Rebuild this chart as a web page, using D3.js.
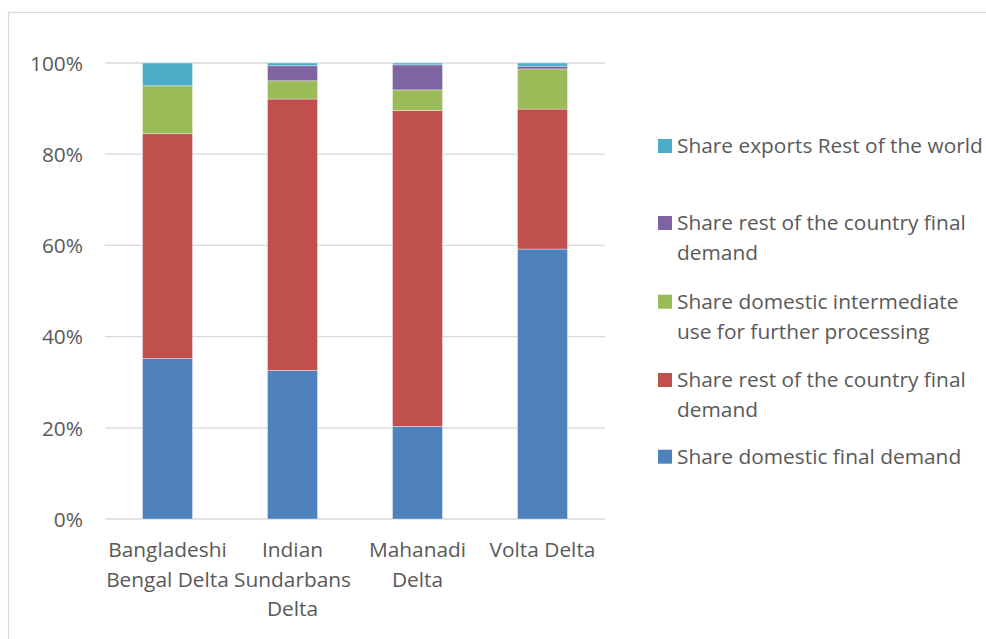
<!DOCTYPE html>
<html><head><meta charset="utf-8">
<script src="https://cdnjs.cloudflare.com/ajax/libs/d3/7.8.5/d3.min.js"></script>
<style>body{margin:0;background:#fff}svg{display:block}text{font-family:"Open Sans",sans-serif;fill:#595959}</style>
</head><body><svg id="c" width="986" height="639"></svg>
<script>
const categories = [["Bangladeshi","Bengal Delta"],["Indian","Sundarbans","Delta"],["Mahanadi","Delta"],["Volta Delta"]];
const seriesNames = ["Share domestic final demand","Share rest of the country final demand","Share domestic intermediate use for further processing","Share rest of the country final demand","Share exports Rest of the world"];
const legendLines = [["Share domestic final demand"],["Share rest of the country final","demand"],["Share domestic intermediate","use for further processing"],["Share rest of the country final","demand"],["Share exports Rest of the world"]];
const domesticFinal   = [35.2, 32.6, 20.3, 59.2];
const restFinalRed    = [49.3, 59.5, 69.3, 30.7];
const domesticInterm  = [10.5, 4.0, 4.5, 8.8];
const restFinalPurple = [0.0, 3.3, 5.5, 0.6];
const exportsRow      = [5.0, 0.6, 0.4, 0.7];
const colors = ["#4F81BD","#C0504D","#9BBB59","#8064A2","#4BACC6"];
const yTicks = [0,20,40,60,80,100];

const svg = d3.select("#c");
svg.append("rect").attr("x",8.5).attr("y",12.5).attr("width",990).attr("height",640).attr("fill","#fff").attr("stroke","#d9d9d9").attr("stroke-width",1.2);

// fit font size: legend first entry spans ~306px in reference
const probe = svg.append("text").attr("font-size",20).text("Share exports Rest of the world");
const fs = 20*306/probe.node().getComputedTextLength();
probe.remove();

const x = d3.scaleBand().domain(categories.map((d,i)=>i)).range([105,605]).paddingInner(0.6).paddingOuter(0.3);
const y = d3.scaleLinear().domain([0,100]).range([519,63]);

const g = svg.append("g");
g.selectAll("line.grid").data(yTicks).join("line").attr("x1",105).attr("x2",605)
 .attr("y1",d=>y(d)).attr("y2",d=>y(d)).attr("stroke","#d9d9d9").attr("stroke-width",1.3);

const seriesData = [domesticFinal, restFinalRed, domesticInterm, restFinalPurple, exportsRow];
const rows = categories.map((c,i)=>{const o={i}; seriesData.forEach((s,k)=>o["s"+k]=s[i]); return o;});
const stack = d3.stack().keys(seriesData.map((s,k)=>"s"+k))(rows);
stack.forEach((layer,k)=>{
  g.selectAll(null).data(layer.filter(d=>d[1]-d[0]>0)).join("rect")
   .attr("x",d=>x(d.data.i)).attr("width",x.bandwidth())
   .attr("y",d=>y(d[1])).attr("height",d=>y(d[0])-y(d[1]))
   .attr("fill",colors[k]).attr("stroke","rgba(255,255,255,0.45)").attr("stroke-width",0.8);
});

// y axis labels
const yAxis = d3.axisLeft(y).tickValues(yTicks).tickFormat(d=>d+"%").tickSize(0).tickPadding(0);
const ya = svg.append("g").attr("transform","translate(83,0)").call(yAxis);
ya.select(".domain").remove();
ya.selectAll("text").attr("font-size",fs).style("font-family","'Open Sans',sans-serif").attr("fill","#595959").attr("dy","0.35em");

// x labels
const xl = svg.append("g");
categories.forEach((lines,i)=>{
  const t = xl.append("text").attr("text-anchor","middle").attr("font-size",fs)
    .attr("x",x(i)+x.bandwidth()/2).attr("y",557);
  lines.forEach((l,j)=>t.append("tspan").attr("x",x(i)+x.bandwidth()/2).attr("dy",j?29.5:0).text(l));
});

// legend
const legendY = [456.7, 380, 301.7, 223, 146];
const leg = svg.append("g");
legendLines.forEach((lines,k)=>{
  leg.append("rect").attr("x",658).attr("y",legendY[k]-7).attr("width",14).attr("height",14).attr("fill",colors[k]);
  const t = leg.append("text").attr("x",677).attr("y",legendY[k]).attr("font-size",fs);
  lines.forEach((l,j)=>t.append("tspan").attr("x",677).attr("dy",j?29.5:"0.35em").text(l));
});
</script></body></html>
